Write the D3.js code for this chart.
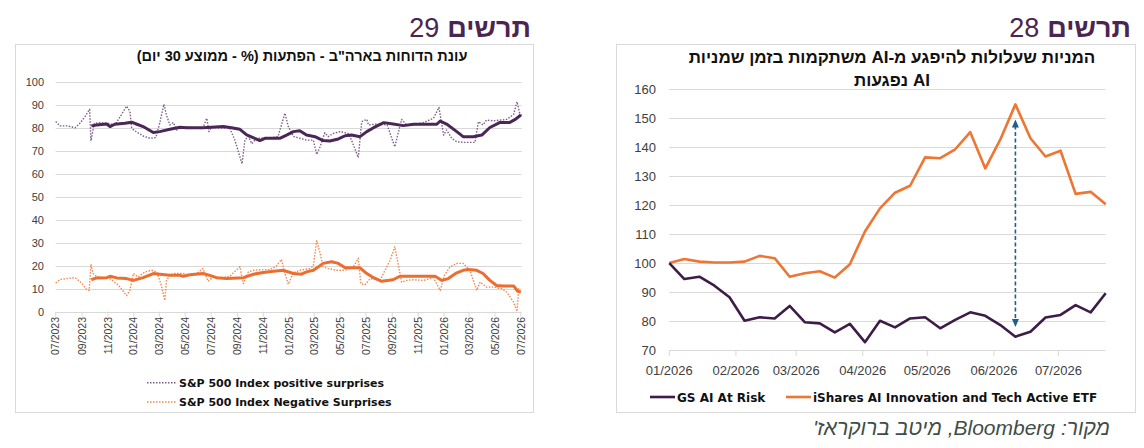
<!DOCTYPE html>
<html><head><meta charset="utf-8">
<script src="https://cdn.jsdelivr.net/npm/d3@7"></script>
<style>
body{margin:0;background:#fff}
svg{display:block}
text{font-family:"Liberation Sans",Arial,"DejaVu Sans",sans-serif}
</style>
</head><body>
<svg id="c" width="1144" height="448"></svg>
<script>
// ---------- Chart 29 data (S&P 500 earnings surprises, %) ----------
const posRaw = [["2023-07-01",82.7],["2023-07-11",80.8],["2023-07-27",80.8],["2023-08-16",80],["2023-08-27",81.9],["2023-09-08",84.8],["2023-09-19",88],["2023-09-22",74.3],["2023-09-30",81.9],["2023-10-13",82.2],["2023-11-02",81.9],["2023-11-17",81.2],["2023-11-30",84.8],["2023-12-15",89.4],["2023-12-23",87],["2023-12-27",79.7],["2024-01-03",78.7],["2024-01-23",76.4],["2024-02-08",75.4],["2024-02-22",75.7],["2024-03-02",81.9],["2024-03-12",90.2],["2024-03-18",85.5],["2024-03-26",81.2],["2024-04-03",82.2],["2024-04-11",79],["2024-04-26",80.5],["2024-05-20",80],["2024-06-12",80],["2024-06-21",84.1],["2024-06-26",78.3],["2024-07-02",80.2],["2024-07-22",79.8],["2024-08-14",79.8],["2024-08-26",74.7],["2024-09-12",64.3],["2024-09-19",74.7],["2024-09-27",76.2],["2024-10-05",73],["2024-10-16",75.4],["2024-11-01",75.4],["2024-11-17",75.4],["2024-12-06",76.2],["2024-12-22",86.3],["2024-12-30",80.5],["2025-01-11",76.2],["2025-02-11",74.6],["2025-02-27",74.6],["2025-03-07",68.4],["2025-03-15",71.7],["2025-03-26",77.8],["2025-04-03",76.1],["2025-04-15",77.5],["2025-05-01",78.3],["2025-05-20",77.5],["2025-05-28",74.6],["2025-06-13",67],["2025-06-21",82.6],["2025-07-03",83.6],["2025-07-07",81.2],["2025-07-27",81.6],["2025-08-20",81.2],["2025-09-07",71.7],["2025-09-23",83.6],["2025-10-05",81.2],["2025-10-21",81.2],["2025-11-13",82.2],["2025-12-07",84.1],["2025-12-20",88.8],["2025-12-31",76.8],["2026-01-07",79],["2026-01-19",75.4],["2026-01-31",73.9],["2026-02-19",73.6],["2026-03-15",73.6],["2026-03-23",82.6],["2026-04-03",81.2],["2026-04-11",83.3],["2026-04-27",83],["2026-05-29",83.6],["2026-06-14",85.8],["2026-06-22",91.3],["2026-06-30",84.8],["2026-07-03",85.8]];
const posAvg = [["2023-09-23",80.8],["2023-10-05",81.2],["2023-10-29",81.6],["2023-11-06",80.5],["2023-11-17",81.5],["2023-12-11",81.9],["2023-12-27",82.4],["2024-01-07",81.6],["2024-01-23",80.5],["2024-02-16",77.9],["2024-03-02",78.3],["2024-03-26",79.3],["2024-04-19",80.2],["2024-05-04",80],["2024-06-12",80],["2024-07-30",80.5],["2024-08-18",80],["2024-09-07",79.3],["2024-09-23",76.9],["2024-10-24",74.4],["2024-11-05",75.4],["2024-12-10",75.4],["2024-12-26",76.8],["2025-01-11",78.3],["2025-01-26",78.7],["2025-02-11",76.8],["2025-03-03",76.1],["2025-03-22",74.4],["2025-04-07",74.2],["2025-04-27",75.1],["2025-05-13",76.5],["2025-05-28",76.8],["2025-06-17",76.1],["2025-07-03",78.3],["2025-07-19",80],["2025-08-12",82.2],["2025-09-03",81.6],["2025-09-27",80.9],["2025-10-21",81.5],["2025-12-15",81.5],["2025-12-23",82.9],["2026-01-07",81.6],["2026-01-31",78.3],["2026-02-15",76.1],["2026-03-11",76.1],["2026-03-31",76.8],["2026-04-19",80.1],["2026-05-13",82.3],["2026-06-05",82.3],["2026-06-18",83.6],["2026-07-01",85.5]];
const negRaw = [["2023-07-01",12.5],["2023-07-11",14],["2023-07-27",14.4],["2023-08-16",14.8],["2023-08-31",12.5],["2023-09-12",9.5],["2023-09-18",9.3],["2023-09-22",20.5],["2023-09-27",16.6],["2023-10-05",15.4],["2023-10-21",14.8],["2023-11-06",14.4],["2023-11-26",11.5],["2023-12-15",7],["2023-12-23",9.3],["2023-12-31",16.6],["2024-01-11",15.1],["2024-01-27",17.3],["2024-02-12",18],["2024-02-24",17.3],["2024-03-06",11.5],["2024-03-14",4.9],["2024-03-18",13.6],["2024-03-26",15.8],["2024-04-03",16.6],["2024-04-26",16.6],["2024-05-12",15.8],["2024-05-28",16.6],["2024-06-12",18.8],["2024-06-24",13.2],["2024-07-06",15.1],["2024-07-26",14.7],["2024-08-14",15.4],["2024-09-07",19.5],["2024-09-15",12.2],["2024-09-27",17.3],["2024-10-09",18],["2024-11-01",18.3],["2024-11-17",18.3],["2024-12-02",19.8],["2024-12-14",22.7],["2024-12-22",16.6],["2024-12-30",11.9],["2025-01-11",16.9],["2025-01-26",18],["2025-02-19",18.8],["2025-02-27",19.8],["2025-03-07",30.9],["2025-03-15",25.4],["2025-03-22",19.5],["2025-04-03",18.8],["2025-04-23",18],["2025-05-13",18],["2025-06-01",19.5],["2025-06-13",23.2],["2025-06-19",12.2],["2025-06-29",11.7],["2025-07-11",14.4],["2025-08-03",13.6],["2025-08-27",22.4],["2025-09-07",28.3],["2025-09-23",12.9],["2025-10-05",13.6],["2025-10-21",13.9],["2025-11-13",13.6],["2025-12-07",14.8],["2025-12-23",9.3],["2026-01-02",15.8],["2026-01-15",19.5],["2026-01-31",21],["2026-02-15",21],["2026-03-03",18],["2026-03-19",9.3],["2026-03-27",12.9],["2026-04-11",10.7],["2026-04-27",10.7],["2026-05-17",10],["2026-05-29",8.5],["2026-06-14",4.1],["2026-06-22",0.1],["2026-06-26",10],["2026-07-01",10]];
const negAvg = [["2023-09-23",13.9],["2023-10-05",14.7],["2023-10-29",14.8],["2023-11-06",15.4],["2023-11-22",14.7],["2023-12-15",14.4],["2023-12-31",13.6],["2024-01-23",14.8],["2024-02-16",16.6],["2024-03-02",16.3],["2024-03-26",15.8],["2024-04-19",15.8],["2024-04-26",15.4],["2024-05-12",16.1],["2024-06-12",16.6],["2024-06-28",15.8],["2024-07-14",14.8],["2024-08-07",14.4],["2024-09-15",14.8],["2024-10-09",16.3],["2024-11-01",17],["2024-11-25",17.6],["2024-12-19",18],["2025-01-11",16.6],["2025-01-30",16.3],["2025-02-11",17.3],["2025-02-27",18],["2025-03-11",19.5],["2025-03-22",21],["2025-04-11",21.7],["2025-04-27",21],["2025-05-13",19.1],["2025-06-17",19.1],["2025-07-03",16.6],["2025-07-19",14.8],["2025-08-07",13.2],["2025-09-03",13.9],["2025-09-19",15.4],["2025-10-21",15.4],["2025-12-11",15.4],["2025-12-27",13.6],["2026-01-11",14.4],["2026-01-31",16.9],["2026-02-15",18],["2026-02-27",18.3],["2026-03-19",18],["2026-04-03",16.6],["2026-04-19",13.6],["2026-05-05",11.4],["2026-05-21",11.2],["2026-06-14",11.2],["2026-06-23",9],["2026-07-01",8.5]];
const leftYTicks = [0,10,20,30,40,50,60,70,80,90,100];
const leftXStart = "2023-07-01", leftXEnd = "2026-07-03";
const leftLegend = ["S&P 500 Index positive surprises","S&P 500 Index Negative Surprises"];
const leftTitle = "עונת הדוחות בארה\"ב - הפתעות (% - ממוצע 30 יום)";

// ---------- Chart 28 data (weekly index, 100 = start) ----------
const weeks = ["2026-01-01","2026-01-08","2026-01-15","2026-01-22","2026-01-29","2026-02-05","2026-02-12","2026-02-19","2026-02-26","2026-03-05","2026-03-12","2026-03-19","2026-03-26","2026-04-02","2026-04-09","2026-04-16","2026-04-23","2026-04-30","2026-05-07","2026-05-14","2026-05-21","2026-05-28","2026-06-04","2026-06-11","2026-06-18","2026-06-25","2026-07-02","2026-07-09","2026-07-16","2026-07-23"];
const gsAtRisk = [100,94.5,95.3,92.2,88.2,80.1,81.3,80.9,85.2,79.6,79.2,76.1,79.0,72.7,80.1,77.8,80.9,81.3,77.5,80.4,83.0,81.8,78.6,74.6,76.3,81.2,82.1,85.5,83.0,89.6];
const ishares = [100,101.4,100.5,100.2,100.2,100.5,102.5,101.7,95.3,96.5,97.2,95.0,99.6,110.9,118.9,124.3,126.7,136.5,136.2,139.3,145.2,132.7,142.7,154.8,143.1,136.8,138.8,123.9,124.6,120.3];
const rightYTicks = [70,80,90,100,110,120,130,140,150,160];
const rightXTicks = ["2026-01-01","2026-02-01","2026-03-01","2026-04-01","2026-05-01","2026-06-01","2026-07-01"];
const arrowSpan = {date:"2026-06-11", from:77.9, to:149.6};
const rightLegend = ["GS AI At Risk","iShares AI Innovation and Tech Active ETF"];
const rightTitle = ["המניות שעלולות להיפגע מ-AI  משתקמות  בזמן שמניות","AI נפגעות"];
const sourceText = "מקור: Bloomberg, מיטב ברוקראז'";

// ---------- drawing ----------
const svg = d3.select("#c");
const parse = d3.timeParse("%Y-%m-%d");
const grid = "#d9d9d9", lab = "#404040", head = "#4a2552";
const cPosRaw = "#7d5d8c", cPosAvg = "#4b2757", cNegRaw = "#f2884a", cNegAvg = "#eb6d2f";
const cGS = "#3e1c48", cIS = "#ee7533";
const dejavu = "'DejaVu Sans', Verdana, sans-serif";

// panel boxes
svg.append("rect").attr("x",15.5).attr("y",44.5).attr("width",518).attr("height",368).attr("fill","none").attr("stroke",grid);
svg.append("rect").attr("x",616.5).attr("y",44.5).attr("width",519).attr("height",368).attr("fill","none").attr("stroke",grid);

function heading(xRight, num){
  const t = svg.append("text").attr("x",xRight).attr("y",37).attr("text-anchor","end")
    .attr("font-size",27).attr("font-weight","bold").attr("fill",head).text("תרשים");
  const w = t.node().getComputedTextLength();
  svg.append("text").attr("x",xRight-w-8).attr("y",37).attr("text-anchor","end")
    .attr("font-size",27).attr("fill",head).text(num);
}
heading(531,"29");
heading(1131,"28");

// ---- left chart ----
const xL = d3.scaleTime().domain([parse(leftXStart),parse(leftXEnd)]).range([55.7,521.7]);
const yL = d3.scaleLinear().domain([0,100]).range([311.7,81.7]);
const gl = svg.append("g");
gl.selectAll("line.g").data(leftYTicks).join("line")
  .attr("x1",xL.range()[0]).attr("x2",xL.range()[1])
  .attr("y1",d=>Math.round(yL(d))+0.5).attr("y2",d=>Math.round(yL(d))+0.5)
  .attr("stroke",grid).attr("stroke-width",1);
gl.selectAll("text.y").data(leftYTicks).join("text")
  .attr("x",44).attr("y",d=>yL(d)+4).attr("text-anchor","end")
  .attr("font-size",11).attr("fill",lab).text(d=>d);
const lMonths = d3.timeMonth.range(parse("2023-07-01"), parse("2026-07-02"), 1).filter((d,i)=>i%2===0);
const fmt = d3.timeFormat("%m/%Y");
gl.selectAll("line.t").data(lMonths).join("line")
  .attr("x1",d=>xL(d)).attr("x2",d=>xL(d)).attr("y1",yL(0)).attr("y2",yL(0)+5)
  .attr("stroke",grid);
gl.selectAll("text.x").data(lMonths).join("text")
  .attr("transform",d=>`translate(${xL(d)},317) rotate(-90)`)
  .attr("text-anchor","end").attr("dy","0.35em")
  .attr("font-size",10.5).attr("fill",lab).text(d=>fmt(d));

const lineL = d3.line().x(d=>xL(parse(d[0]))).y(d=>yL(d[1]));
function pathL(data,color,w,dash){
  gl.append("path").datum(data).attr("d",lineL).attr("fill","none")
    .attr("stroke",color).attr("stroke-width",w).attr("stroke-linejoin","round")
    .attr("stroke-dasharray",dash||null);
}
pathL(posRaw,cPosRaw,1.4,"1.5 1.5");
pathL(negRaw,cNegRaw,1.4,"1.5 1.5");
pathL(posAvg,cPosAvg,3);
pathL(negAvg,cNegAvg,3);

svg.append("text").attr("x",302).attr("y",60.5).attr("text-anchor","middle").attr("direction","rtl")
  .attr("font-size",14.5).attr("font-weight","bold").attr("fill","#111").text(leftTitle);

[[cPosRaw,382.7],[cNegRaw,402]].forEach((c,i)=>{
  svg.append("line").attr("x1",147).attr("x2",176).attr("y1",c[1]).attr("y2",c[1])
    .attr("stroke",c[0]).attr("stroke-width",1.5).attr("stroke-dasharray","1.5 1.5");
  svg.append("text").attr("x",179).attr("y",c[1]+4).style("font-family",dejavu)
    .attr("font-size",11).attr("font-weight","bold").attr("fill","#111").text(leftLegend[i]);
});

// ---- right chart ----
const xR = d3.scaleTime().domain([parse(weeks[0]),parse(weeks[weeks.length-1])]).range([669.3,1105.7]);
const yR = d3.scaleLinear().domain([70,160]).range([350,89.3]);
const gr = svg.append("g");
gr.selectAll("line.g").data(rightYTicks).join("line")
  .attr("x1",xR.range()[0]).attr("x2",xR.range()[1])
  .attr("y1",d=>Math.round(yR(d))+0.5).attr("y2",d=>Math.round(yR(d))+0.5)
  .attr("stroke",grid);
gr.selectAll("text.y").data(rightYTicks).join("text")
  .attr("x",656).attr("y",d=>yR(d)+4.6).attr("text-anchor","end")
  .attr("font-size",13).attr("fill",lab).text(d=>d);
gr.selectAll("line.t").data(rightXTicks).join("line")
  .attr("x1",d=>xR(parse(d))).attr("x2",d=>xR(parse(d))).attr("y1",yR(70)).attr("y2",yR(70)+6)
  .attr("stroke",grid);
gr.selectAll("text.x").data(rightXTicks).join("text")
  .attr("x",d=>xR(parse(d))).attr("y",375).attr("text-anchor","middle")
  .attr("font-size",13).attr("fill",lab).text(d=>fmt(parse(d)));

const lineR = d3.line().x((d,i)=>xR(parse(weeks[i]))).y(d=>yR(d));
gr.append("path").datum(ishares).attr("d",lineR).attr("fill","none").attr("stroke",cIS).attr("stroke-width",2.6).attr("stroke-linejoin","round");
gr.append("path").datum(gsAtRisk).attr("d",lineR).attr("fill","none").attr("stroke",cGS).attr("stroke-width",2.6).attr("stroke-linejoin","round");

// arrow
const ax = xR(parse(arrowSpan.date)), yTop = yR(arrowSpan.to), yBot = yR(arrowSpan.from);
const ac = "#1f5f8b";
gr.append("line").attr("x1",ax).attr("x2",ax).attr("y1",yTop+6).attr("y2",yBot-6)
  .attr("stroke",ac).attr("stroke-width",1.6).attr("stroke-dasharray","4 2.5");
gr.append("path").attr("d",`M${ax},${yTop} L${ax-3.5},${yTop+8} L${ax+3.5},${yTop+8} Z`).attr("fill",ac);
gr.append("path").attr("d",`M${ax},${yBot} L${ax-3.5},${yBot-8} L${ax+3.5},${yBot-8} Z`).attr("fill",ac);

rightTitle.forEach((t,i)=>{
  svg.append("text").attr("x",892).attr("y",63+i*23).attr("text-anchor","middle").attr("direction","rtl")
    .attr("font-size",17).attr("font-weight","bold").attr("fill","#111").text(t);
});

// right legend
[[cGS,650,rightLegend[0]],[cIS,786,rightLegend[1]]].forEach(c=>{
  svg.append("line").attr("x1",c[1]).attr("x2",c[1]+25).attr("y1",397).attr("y2",397)
    .attr("stroke",c[0]).attr("stroke-width",2.6);
  svg.append("text").attr("x",c[1]+27).attr("y",401.5).style("font-family",dejavu)
    .attr("font-size",12).attr("font-weight","bold").attr("fill","#111").text(c[2]);
});

// source
const src = svg.append("text").attr("y",435).attr("direction","rtl").attr("text-anchor","middle")
  .attr("font-size",21).attr("font-style","italic").attr("fill","#3f4d47").text(sourceText);
const sw = src.node().getComputedTextLength();
src.attr("x",1110-sw/2);
</script>
</body></html>
